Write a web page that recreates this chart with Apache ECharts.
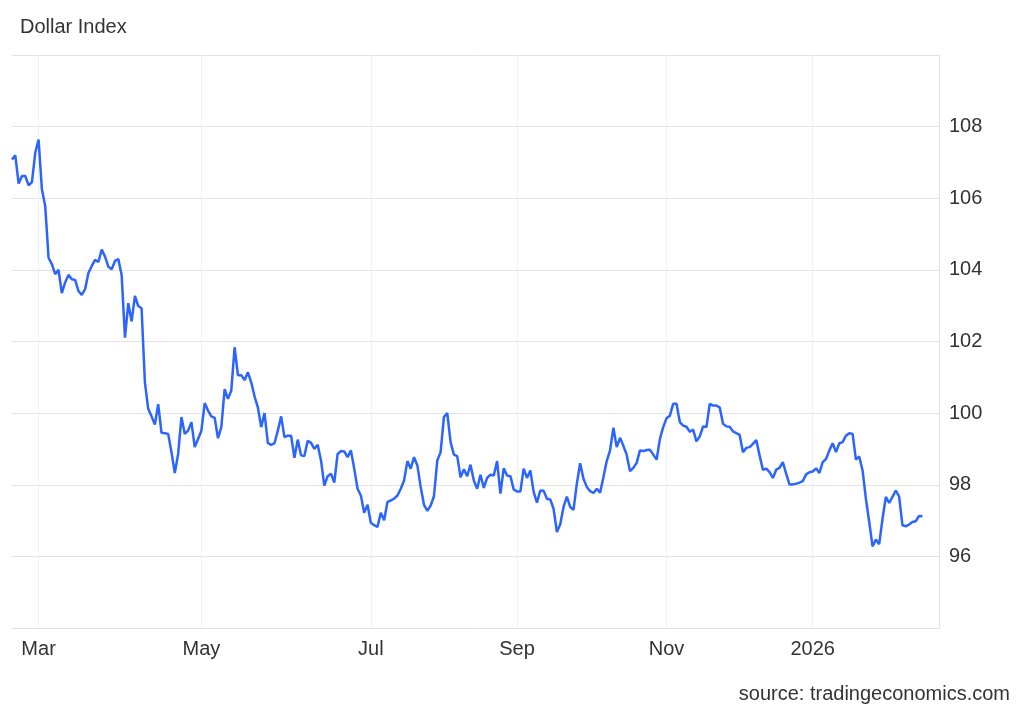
<!DOCTYPE html>
<html>
<head>
<meta charset="utf-8">
<script src="https://cdn.jsdelivr.net/npm/echarts@6/dist/echarts.min.js"></script>
<style>
html,body{margin:0;padding:0;background:#fff;}
#chart{width:1024px;height:710px;}
</style>
</head>
<body>
<div id="chart"></div>
<script>
// Dollar Index, daily closes
const values = [
107.08,107.20,106.41,106.62,106.62,106.36,106.45,107.27,107.64,106.25,
105.78,104.34,104.16,103.88,104.00,103.35,103.65,103.86,103.74,103.72,
103.41,103.30,103.46,103.91,104.11,104.28,104.22,104.57,104.37,104.09,
104.02,104.25,104.30,103.86,102.11,103.07,102.56,103.27,102.99,102.93,
100.86,100.12,99.91,99.68,100.25,99.45,99.44,99.42,98.91,98.33,
98.86,99.89,99.42,99.51,99.75,99.05,99.28,99.51,100.28,100.07,
99.91,99.87,99.30,99.61,100.67,100.40,100.63,101.84,101.06,101.06,
100.92,101.14,100.86,100.47,100.16,99.61,100.00,99.17,99.11,99.16,
99.51,99.91,99.33,99.37,99.37,98.75,99.26,98.82,98.80,99.23,
99.17,99.00,99.12,98.68,97.98,98.24,98.31,98.06,98.86,98.94,
98.93,98.77,98.96,98.45,97.89,97.70,97.22,97.44,96.94,96.87,
96.82,97.22,97.01,97.52,97.56,97.61,97.70,97.89,98.12,98.66,
98.45,98.77,98.54,97.94,97.44,97.27,97.42,97.68,98.68,98.91,
99.89,100.00,99.19,98.84,98.80,98.21,98.43,98.24,98.56,98.12,
97.89,98.28,97.91,98.19,98.28,98.26,98.66,97.75,98.46,98.26,
98.24,97.87,97.81,97.81,98.45,98.19,98.40,97.80,97.50,97.84,
97.83,97.61,97.59,97.33,96.68,96.90,97.38,97.67,97.38,97.30,
98.03,98.60,98.17,97.94,97.82,97.77,97.89,97.78,98.21,98.66,
98.96,99.59,99.05,99.31,99.09,98.84,98.38,98.47,98.61,98.96,
98.94,98.97,98.98,98.84,98.70,99.28,99.61,99.86,99.93,100.26,
100.26,99.75,99.65,99.62,99.48,99.54,99.21,99.35,99.63,99.61,
100.26,100.21,100.21,100.16,99.70,99.63,99.62,99.49,99.44,99.39,
98.91,99.03,99.05,99.14,99.25,98.82,98.42,98.45,98.35,98.19,
98.42,98.47,98.63,98.31,98.01,98.01,98.03,98.06,98.10,98.29,
98.35,98.37,98.46,98.33,98.63,98.72,98.96,99.16,98.91,99.16,
99.19,99.37,99.44,99.42,98.70,98.79,98.40,97.61,96.96,96.28,
96.47,96.34,97.05,97.66,97.49,97.66,97.84,97.67,96.87,96.84,
96.89,96.96,96.98,97.13,97.12
];
// number of daily slots on the time axis (data fills the first ones)
const slotCount = 280;
// month tick labels and the slot they fall on
const tickLabels = ['Mar', 'May', 'Jul', 'Sep', 'Nov', '2026'];
const tickSlots = [8, 57, 108, 152, 197, 241];
// y-axis ticks
const yMin = 94, yMax = 110, yStep = 2;

const categories = [];
for (let i = 0; i < slotCount; i++) categories.push(String(i));
const seriesData = [];
for (let i = 0; i < slotCount; i++) seriesData.push(i < values.length ? values[i] : null);

const tickSet = new Set(tickSlots);
const isTick = (idx) => tickSet.has(idx);
const FONT = 'Liberation Sans, Arial, sans-serif';

const chart = echarts.init(document.getElementById('chart'), null, {renderer: 'canvas'});
chart.setOption({
  animation: false,
  backgroundColor: '#ffffff',
  textStyle: {fontFamily: FONT},
  title: [{
    text: 'Dollar Index',
    left: 15, top: 12,
    textStyle: {fontSize: 20, fontWeight: 'normal', color: '#333333', fontFamily: FONT}
  }, {
    text: 'source: tradingeconomics.com',
    right: 9, top: 679,
    textStyle: {fontSize: 20, fontWeight: 'normal', color: '#333333', fontFamily: FONT}
  }],
  grid: {left: 12, right: 85, top: 55, bottom: 82, containLabel: false},
  xAxis: {
    type: 'category',
    data: categories,
    boundaryGap: false,
    axisLine: {show: true, lineStyle: {color: '#e3e3e3', width: 1}},
    axisTick: {show: false},
    axisLabel: {
      interval: (idx) => isTick(idx),
      formatter: (val) => tickLabels[tickSlots.indexOf(Number(val))] || '',
      fontSize: 20, color: '#333333', margin: 11,
      fontFamily: FONT
    },
    splitLine: {show: true, interval: (idx) => isTick(idx), lineStyle: {color: '#edf1f6', width: 1}}
  },
  yAxis: {
    type: 'value',
    position: 'right',
    min: yMin, max: yMax, interval: yStep,
    axisLine: {show: true, lineStyle: {color: '#e3e3e3'}},
    axisTick: {show: false},
    axisLabel: {
      showMinLabel: false, showMaxLabel: false,
      fontSize: 20, color: '#333333', margin: 10,
      fontFamily: FONT
    },
    splitLine: {show: true, lineStyle: {color: '#e3e3e3', width: 1}}
  },
  series: [{
    type: 'line',
    data: seriesData,
    showSymbol: false,
    connectNulls: false,
    lineStyle: {color: '#2c64ff', width: 2.5},
    itemStyle: {color: '#2c64ff'}
  }]
});
</script>
</body>
</html>
